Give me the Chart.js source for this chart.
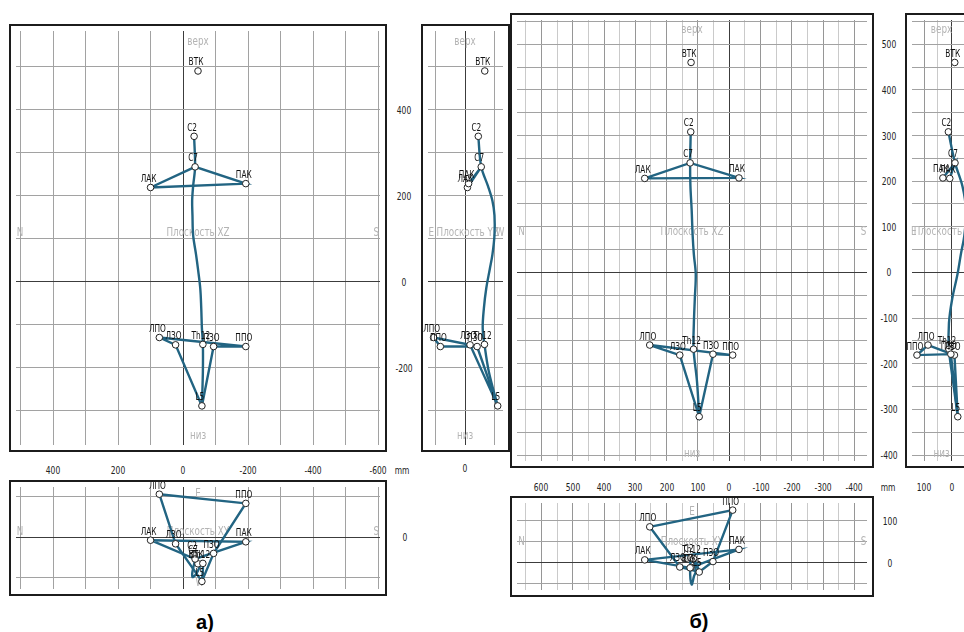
<!DOCTYPE html>
<html>
<head>
<meta charset="utf-8">
<script src="https://cdn.jsdelivr.net/npm/chart.js@4.4.1/dist/chart.umd.min.js"></script>
<style>
  body { margin: 0; background: #fff; width: 964px; height: 632px; overflow: hidden; position: relative;
         font-family: "Liberation Sans Narrow", "DejaVu Sans Condensed", "Liberation Sans", sans-serif; }
  .frame { position: absolute; border: 2px solid #1c1c1c; background: #fff; }
  .frame canvas { display: block; }
  .tick { position: absolute; font-size: 10.5px; color: #222; transform: translate(-50%, -50%) scaleX(0.8); white-space: nowrap; line-height: 1; }
  .cap { position: absolute; font: bold 20px "Liberation Sans", Arial, sans-serif; transform: translate(-50%, -50%); }
</style>
</head>
<body>
<script>
// landmark names, same order for both patients
const landmarks = ["ВТК", "С2", "С7", "ЛАК", "ПАК", "ЛПО", "ЛЗО", "Th12", "ПЗО", "ППО", "L5"];
const shoulderPath = ["ЛАК", "С7", "ПАК", "ЛАК"];
const pelvisPath = ["ЛПО", "ППО", "ПЗО", "L5", "ЛЗО", "ЛПО"];

// patient a), mm
const aX = [-46, -34, -37, 100, -193, 73, 23, -61, -94, -193, -58];
const aY = [-67, -45, -55, -8, -12, 107, -17, -66, -41, 84, -111];
const aZ = [490, 338, 267, 219, 228, -130, -147, -146, -151, -151, -289];
const aSpineX = [-34, -37, -31, -28, -29, -31, -40, -46, -53, -56, -58, -61, -61, -58];
const aSpineY = [-45, -55, -78, -93, -100, -100, -93, -84, -72, -64, -60, -66, -81, -111];
const aSpineZ = [338, 267, 222, 188, 154, 108, 63, 29, -16, -62, -108, -146, -210, -289];

// patient б), mm
const bX = [122, 123, 125, 270, -31, 254, 158, 114, 52, -11, 96];
const bY = [-11, 12, -12, 7, 32, 86, -10, 10, 3, 126, -22];
const bZ = [460, 308, 240, 206, 207, -159, -181, -168, -179, -181, -316];
const bSpineX = [123, 125, 124, 120, 117, 113, 107, 110, 113, 114, 103, 96];
const bSpineY = [12, -12, -39, -52, -46, -33, -21, -2, 10, 10, -5, -22];
const bSpineZ = [308, 240, 189, 136, 82, 39, -4, -57, -111, -168, -239, -316];

// tick labels
const aXTicks = [400, 200, 0, -200, -400, -600];
const aZTicks = [400, 200, 0, -200];
const aYZTicks = [0];
const aXYTicks = [0];
const bXTicks = [600, 500, 400, 300, 200, 100, 0, -100, -200, -300, -400];
const bZTicks = [500, 400, 300, 200, 100, 0, -100, -200, -300, -400];
const bYZTicks = [100, 0];
const bXYTicks = [100, 0];

const LINE = "#226482";
const LABEL_FONT = '10.5px "Liberation Sans Narrow", "DejaVu Sans Condensed", "Liberation Sans", sans-serif';
const GRAY_FONT = '11.5px "Liberation Sans Narrow", "DejaVu Sans Condensed", "Liberation Sans", sans-serif';

// draw text squeezed horizontally, like the narrow font of the original
function narrowText(ctx, str, x, y, k) {
  ctx.save();
  ctx.translate(x, y);
  ctx.scale(k, 1);
  ctx.fillText(str, 0, 0);
  ctx.restore();
}

const pointLabels = {
  id: "pointLabels",
  afterDatasetsDraw(chart) {
    const ctx = chart.ctx;
    const meta = chart.getDatasetMeta(0);
    ctx.save();
    ctx.font = LABEL_FONT;
    ctx.fillStyle = "#111";
    ctx.textAlign = "center";
    ctx.textBaseline = "bottom";
    meta.data.forEach((el, i) => narrowText(ctx, landmarks[i], el.x - 2, el.y - 3, 0.78));
    ctx.restore();
  }
};

const planeText = {
  id: "planeText",
  beforeDatasetsDraw(chart, args, opts) {
    const ctx = chart.ctx;
    const a = chart.chartArea;
    ctx.save();
    ctx.font = GRAY_FONT;
    ctx.fillStyle = "#b4b4b4";
    ctx.textAlign = "center";
    ctx.textBaseline = "middle";
    (opts.items || []).forEach(it => {
      narrowText(ctx, it[0], a.left + it[1] * (a.right - a.left), a.top + it[2] * (a.bottom - a.top), 0.85);
    });
    ctx.restore();
  }
};

function axis(min, max, step, reverse, color) {
  return {
    type: "linear", min, max, reverse,
    border: { display: false },
    ticks: { display: false, stepSize: step, includeBounds: false, maxTicksLimit: 1000 },
    grid: {
      drawTicks: false, lineWidth: 1,
      color: c => (c.tick && c.tick.value === 0) ? "#3c3c3c" : color(c.tick ? c.tick.value : 1)
    }
  };
}

function planeData(h, v, sh, sv) {
  const pt = i => ({ x: h[i], y: v[i] });
  const path = names => names.map(n => pt(landmarks.indexOf(n)));
  const line = { showLine: true, pointRadius: 0, borderColor: LINE, borderWidth: 2.4 };
  return [
    { data: landmarks.map((_, i) => pt(i)), showLine: false, pointRadius: 3.3,
      pointBackgroundColor: "#fff", pointBorderColor: "#222", pointBorderWidth: 1 },
    Object.assign({ data: path(shoulderPath) }, line),
    Object.assign({ data: path(pelvisPath) }, line),
    Object.assign({ data: sh.map((x, i) => ({ x, y: sv[i] })), tension: 0.35 }, line)
  ];
}

function plane(box, datasets, xs, ys, items) {
  const div = document.createElement("div");
  div.className = "frame";
  div.style.left = (box.l - 2) + "px";
  div.style.top = (box.t - 2) + "px";
  const cv = document.createElement("canvas");
  cv.width = box.w; cv.height = box.h;
  cv.style.width = box.w + "px"; cv.style.height = box.h + "px";
  div.appendChild(cv);
  document.body.appendChild(div);
  return new Chart(cv, {
    type: "scatter",
    data: { datasets },
    plugins: [planeText, pointLabels],
    options: {
      responsive: false, animation: false, devicePixelRatio: 1, events: [],
      layout: { padding: 0 },
      scales: { x: xs, y: ys },
      plugins: { legend: { display: false }, tooltip: { enabled: false }, planeText: { items } }
    }
  });
}

function text(str, x, y, cls) {
  const s = document.createElement("div");
  s.className = cls || "tick";
  s.textContent = str;
  s.style.left = x + "px";
  s.style.top = y + "px";
  document.body.appendChild(s);
}
function xLabels(chart, box, values, y) {
  values.forEach(v => text(String(v), box.l + chart.scales.x.getPixelForValue(v), y));
}
function yLabels(chart, box, values, x) {
  values.forEach(v => text(String(v), x, box.t + chart.scales.y.getPixelForValue(v)));
}

const plain = () => "#a2a2a2";
const fine = v => (Math.abs(v) % 100 === 0) ? "#969696" : "#cacaca";

// ---- a) ----
const aXZBox = { l: 11, t: 26, w: 374, h: 424 };
const aXYBox = { l: 11, t: 482, w: 374, h: 112 };
const aYZBox = { l: 423, t: 26, w: 85, h: 424 };

const aXZ = plane(aXZBox, planeData(aX, aZ, aSpineX, aSpineZ),
  axis(-606, 514, 100, true, plain), axis(-380, 583, 100, false, plain),
  [["верх", 0.5, 0.026], ["низ", 0.5, 0.979], ["Плоскость XZ", 0.5, 0.488], ["N", 0.011, 0.488], ["S", 0.99, 0.488]]);
const aXY = plane(aXYBox, planeData(aX, aY, aSpineX, aSpineY),
  axis(-606, 514, 100, true, plain), axis(-130, 125, 100, false, plain),
  [["Е", 0.5, 0.07], ["Плоскость XY", 0.5, 0.446], ["N", 0.011, 0.446], ["S", 0.99, 0.446], ["W", 0.505, 0.94]]);
const aYZ = plane(aYZBox, planeData(aY, aZ, aSpineY, aSpineZ),
  axis(-129, 126, 100, true, plain), axis(-380, 583, 100, false, plain),
  [["верх", 0.494, 0.026], ["низ", 0.494, 0.979], ["Плоскость YZ", 0.53, 0.488], ["E", 0.045, 0.488], ["W", 0.96, 0.488]]);

xLabels(aXZ, aXZBox, aXTicks, 470);
xLabels(aYZ, aYZBox, aYZTicks, 468);
yLabels(aXZ, aXZBox, aZTicks, 404);
yLabels(aXY, aXYBox, aXYTicks, 405);
text("mm", 402, 470);

// ---- б) ----
const bXZBox = { l: 512, t: 15, w: 360, h: 451 };
const bXYBox = { l: 512, t: 498, w: 360, h: 97 };
const bYZBox = { l: 907, t: 15, w: 69, h: 451 };

const bXZ = plane(bXZBox, planeData(bX, bZ, bSpineX, bSpineZ),
  axis(-440, 678, 50, true, fine), axis(-413, 553, 50, false, plain),
  [["верх", 0.5, 0.022], ["низ", 0.5, 0.984], ["Плоскость XZ", 0.5, 0.481], ["N", 0.013, 0.481], ["S", 0.99, 0.481]]);
const bXY = plane(bXYBox, planeData(bX, bY, bSpineX, bSpineY),
  axis(-440, 678, 50, true, fine), axis(-65, 143, 50, false, plain),
  [["Е", 0.5, 0.106], ["Плоскость XY", 0.5, 0.45], ["N", 0.013, 0.45], ["S", 0.99, 0.45]]);
const bYZ = plane(bYZBox, planeData(bY, bZ, bSpineY, bSpineZ),
  axis(-70, 144, 50, true, fine), axis(-413, 553, 50, false, plain),
  [["верх", 0.5, 0.022], ["низ", 0.5, 0.984], ["Плоскость YZ", 0.56, 0.481], ["E", 0.03, 0.481]]);

xLabels(bXZ, bXZBox, bXTicks, 487);
xLabels(bYZ, bYZBox, bYZTicks, 487);
yLabels(bXZ, bXZBox, bZTicks, 889);
yLabels(bXY, bXYBox, bXYTicks, 890);
text("mm", 888, 487);

text("а)", 205, 622, "cap");
text("б)", 699, 621, "cap");
</script>
</body>
</html>
